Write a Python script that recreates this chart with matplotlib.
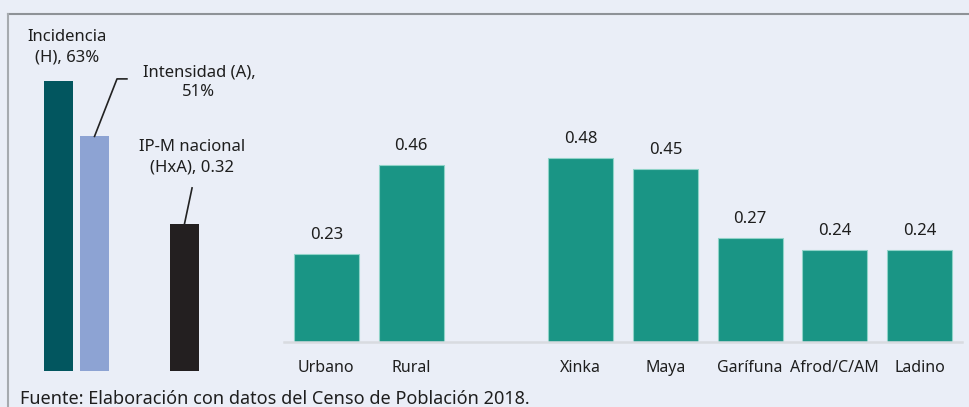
import matplotlib
matplotlib.use("Agg")
import matplotlib.pyplot as plt

# left panel: national index components (in %)
nat_labels = ["Incidencia\n(H), 63%", "Intensidad (A),\n51%", "IP-M nacional\n(HxA), 0.32"]
nat_values = [63, 51, 32]
nat_colors = ["#02565F", "#8DA3D3", "#231F20"]

# right panel: IP-M by area and by people
groups = ["Urbano", "Rural", "Xinka", "Maya", "Garífuna", "Afrod/C/AM", "Ladino"]
ipm_values = [0.23, 0.46, 0.48, 0.45, 0.27, 0.24, 0.24]
ipm_labels = ["0.23", "0.46", "0.48", "0.45", "0.27", "0.24", "0.24"]

plt.rcParams["font.family"] = ["Noto Sans", "DejaVu Sans"]
bg = "#EAEEF7"
txt = "#1E1E1E"
W, H = 969, 407

fig = plt.figure(figsize=(W / 100, H / 100), dpi=100, facecolor=bg)

def px_axes(x0, x1, ytop, ybot):
    return fig.add_axes([x0 / W, (H - ybot) / H, (x1 - x0) / W, (ybot - ytop) / H])

# frame lines (top and left)
fig.add_artist(plt.Line2D([8 / W, 1], [1 - 14 / H, 1 - 14 / H], color="#8E9297", lw=1.5))
fig.add_artist(plt.Line2D([8 / W, 8 / W], [0, 1 - 14 / H], color="#A6AAAF", lw=1.5))

# ---- left panel
axl = px_axes(40.5, 220.5, 371 - 70 * 4.6, 371)
axl.set_facecolor("none")
pos_l = [0, 1, 3.5]
axl.bar(pos_l, nat_values, width=0.8, color=nat_colors)
axl.set_xlim(-0.5, 4.5)
axl.set_ylim(0, 70)
axl.axis("off")

kw = dict(ha="center", va="center", fontsize=12, color=txt, linespacing=1.35, clip_on=False)
axl.text(0.24, 70.4, nat_labels[0], **kw)
axl.text(3.9, 62.8, nat_labels[1], **kw)
axl.text(3.71, 46.5, nat_labels[2], **kw)
axl.plot([1, 1.625, 1.9], [nat_values[1], 63.5, 63.5], color="#222222", lw=1.2, clip_on=False)
axl.plot([3.5, 3.71], [nat_values[2], 39.8], color="#222222", lw=1.2, clip_on=False)

# ---- right panel
axr = px_axes(284, 962, 342 - 0.55 * 384, 342)
axr.set_facecolor("none")
pos_r = [0, 1, 3, 4, 5, 6, 7]
bars = axr.bar(pos_r, ipm_values, width=0.765, color="#1A9585", edgecolor="#8FD3C8", linewidth=0.8)
for b, lab in zip(bars, ipm_labels):
    axr.annotate(lab, (b.get_x() + b.get_width() / 2, b.get_height()), xytext=(0, 8),
                 textcoords="offset points", ha="center", va="bottom", fontsize=12,
                 color=txt)
axr.set_xlim(-0.5, 7.5)
axr.set_ylim(0, 0.55)
axr.set_xticks(pos_r)
axr.set_xticklabels(groups, fontsize=11.5, color=txt)
axr.tick_params(axis="x", length=0, pad=13)
axr.set_yticks([])
for s in ["top", "right", "left"]:
    axr.spines[s].set_visible(False)
axr.spines["bottom"].set_color("#D8DBE0")
axr.spines["bottom"].set_linewidth(1.8)

fig.text(20 / W, 1 - 390 / H, "Fuente: Elaboración con datos del Censo de Población 2018.",
         ha="left", va="top", fontsize=13, color=txt)

plt.savefig("out.png", dpi=100, facecolor=bg)
